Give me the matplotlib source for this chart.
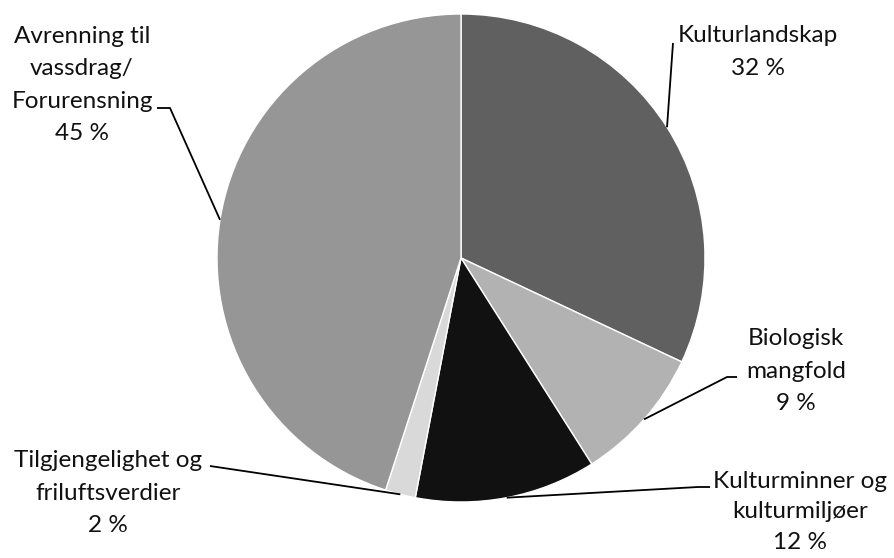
import numpy as np
import matplotlib
matplotlib.use("Agg")
import matplotlib.pyplot as plt

plt.rcParams['font.family'] = ['Lato', 'DejaVu Sans']

categories = ["Kulturlandskap", "Biologisk\nmangfold", "Kulturminner og\nkulturmiljøer",
              "Tilgjengelighet og\nfriluftsverdier", "Avrenning til\nvassdrag/\nForurensning"]
values = [32, 9, 12, 2, 45]
colors = ["#606060", "#b2b2b2", "#111111", "#d9d9d9", "#969696"]

W, H = 894, 558
fig = plt.figure(figsize=(W / 100, H / 100), dpi=100)
ax = fig.add_axes([0, 0, 1, 1])

cx, cy, R = 461, H - 258, 244
wedges, _ = ax.pie(values, colors=colors, startangle=90, counterclock=False,
                   center=(cx, cy), radius=R, frame=True,
                   wedgeprops=dict(linewidth=1.0, edgecolor='white'))
ax.set_xlim(0, W)
ax.set_ylim(0, H)
ax.set_aspect('equal')
ax.axis('off')

# label layout (pixel coords from top): text center, leader path points
text_pos = [(758, 52), (796, 371), (800, 512), (108, 493), (82, 85)]
leader_pts = [[(673, 43)],
              [(737, 377), (727, 377)],
              [(710, 487), (698, 487)],
              [(210, 466)],
              [(157, 108), (170, 108)]]

total = sum(values)
cum = 0
for i, (cat, v) in enumerate(zip(categories, values)):
    mid = (cum + v / 2) / total * 360.0
    cum += v
    ex = cx + R * np.sin(np.radians(mid))
    ey = cy + R * np.cos(np.radians(mid))
    pts = [(x, H - y) for x, y in leader_pts[i]] + [(ex, ey)]
    xs, ys = zip(*pts)
    ax.plot(xs, ys, color='black', lw=1.3, solid_capstyle='butt')
    tx, ty = text_pos[i]
    ls = 1.55 if i == 2 else 1.68
    ax.text(tx, H - ty, f"{cat}\n{v} %", ha='center', va='center',
            fontsize=17.5, linespacing=ls, color='#111111')

fig.savefig("out.png", dpi=100)
